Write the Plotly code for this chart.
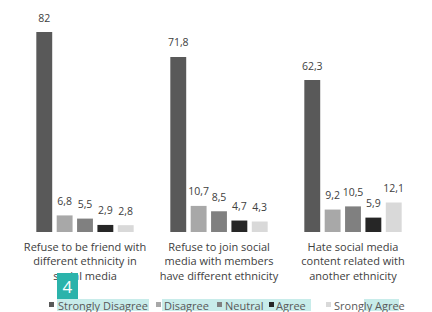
import plotly.graph_objects as go

categories = [
    "Refuse to be friend with<br>different ethnicity in<br>social media",
    "Refuse to join social<br>media with members<br>have different ethnicity",
    "Hate social media<br>content related with<br>another ethnicity",
]
series_names = ["Strongly Disagree", "Disagree", "Neutral", "Agree", "Srongly Agree"]
strongly_disagree = [82, 71.8, 62.3]
disagree = [6.8, 10.7, 9.2]
neutral = [5.5, 8.5, 10.5]
agree = [2.9, 4.7, 5.9]
strongly_agree = [2.8, 4.3, 12.1]
series_values = [strongly_disagree, disagree, neutral, agree, strongly_agree]
colors = ["#595959", "#a8a8a8", "#808080", "#262626", "#d9d9d9"]

W, H = 432, 312
ML, MR, MT, MB = 18, 12, 12, 80
PW, PH = W - ML - MR, H - MT - MB
FONT = "Open Sans"


def fmt(v):
    return (str(v)).replace(".", ",")


fig = go.Figure()
for i, (name, vals, col) in enumerate(zip(series_names, series_values, colors)):
    fig.add_trace(go.Bar(
        x=categories, y=vals, name=name, marker=dict(color=col, line=dict(width=0)),
        offsetgroup=str(i), showlegend=False, hoverinfo="skip",
    ))
for i, vals in enumerate(series_values):
    fig.add_trace(go.Scatter(
        x=categories, y=vals, mode="markers+text", text=[fmt(v) for v in vals],
        textposition="top center", offsetgroup=str(i),
        marker=dict(size=11, color="rgba(0,0,0,0)"),
        textfont=dict(family=FONT, size=10.5, color="#404040"),
        showlegend=False, hoverinfo="skip", cliponaxis=False,
    ))


def px(x):
    return (x - ML) / PW


def py(y):
    return (H - MB - y) / PH


shapes = []
annotations = []
hl = "#c8ecea"
# highlight rectangles behind legend text
for x0, x1 in [(57, 149), (162, 311), (364, 399)]:
    shapes.append(dict(type="rect", xref="paper", yref="paper", x0=px(x0), x1=px(x1),
                       y0=py(311), y1=py(299), fillcolor=hl, line=dict(width=0), layer="below"))
legend_sq = [49, 156, 217, 269, 326]
legend_tx = [57, 163, 224, 275, 333]
for i, name in enumerate(series_names):
    shapes.append(dict(type="rect", xref="paper", yref="paper", x0=px(legend_sq[i]),
                       x1=px(legend_sq[i] + 5), y0=py(307), y1=py(302),
                       fillcolor=colors[i], line=dict(width=0)))
    annotations.append(dict(text=name, xref="paper", yref="paper", x=px(legend_tx[i]),
                            y=py(305), xanchor="left", yanchor="middle", showarrow=False,
                            borderpad=0,
                            font=dict(family=FONT, size=11, color="#595959")))
# badge
annotations.append(dict(text="4", xref="paper", yref="paper", x=px(67.5), y=py(285.5),
                        xanchor="center", yanchor="middle", showarrow=False,
                        font=dict(family=FONT, size=17, color="white"),
                        bgcolor="#2bb3ab", bordercolor="#2bb3ab", borderpad=2, width=15, height=20))

fig.update_layout(
    width=W, height=H, margin=dict(l=ML, r=MR, t=MT, b=MB),
    paper_bgcolor="white", plot_bgcolor="white",
    barmode="group", bargap=0.24, bargroupgap=0.22,
    scattermode="group", scattergap=0.24,
    xaxis=dict(showgrid=False, zeroline=False, showline=False, ticks="",
               ticklabelstandoff=7,
               tickfont=dict(family=FONT, size=11, color="#404040")),
    yaxis=dict(range=[0, PH / (200 / 82)], visible=False, showgrid=False, zeroline=False),
    shapes=shapes, annotations=annotations,
)
fig.write_html("out.html", config={"displayModeBar": False},
               post_script="document.body.style.margin='0';")
